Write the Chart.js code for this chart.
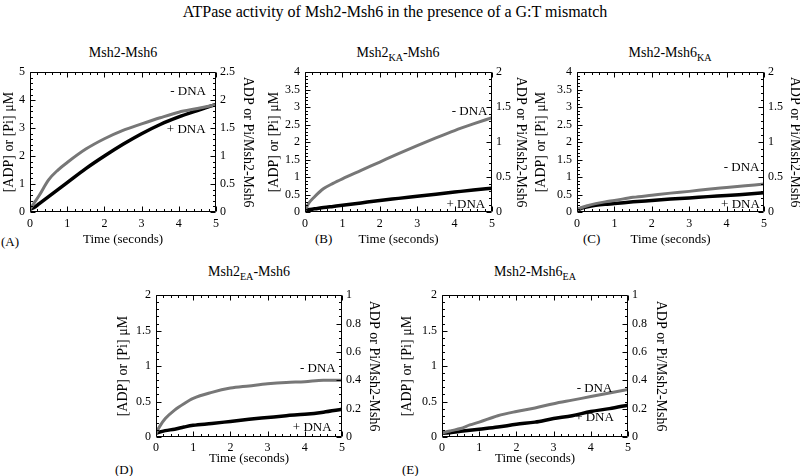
<!DOCTYPE html>
<html><head><meta charset="utf-8">
<script src="https://cdn.jsdelivr.net/npm/chart.js@4.4.0/dist/chart.umd.min.js"></script>
<style>
html,body{margin:0;padding:0;background:#fff;width:800px;height:476px;overflow:hidden;position:relative;font-family:"Liberation Serif","Times New Roman",serif;color:#000}
.t{position:absolute;white-space:nowrap;transform:translate(-50%,-50%);line-height:1}
.t sub{font-size:0.72em;vertical-align:-0.35em;line-height:0}
.lbl{position:absolute;white-space:nowrap;transform:translateY(-50%);font-size:13px;line-height:1}
canvas{position:absolute}
</style></head><body>
<div class="t" style="left:395px;top:12px;font-size:16px">ATPase activity of Msh2-Msh6 in the presence of a G:T mismatch</div>
<div class="t" style="left:123px;top:53px;font-size:14px">Msh2-Msh6</div>
<div class="t" style="left:398px;top:53px;font-size:14px">Msh2<sub>KA</sub>-Msh6</div>
<div class="t" style="left:670px;top:53px;font-size:14px">Msh2-Msh6<sub>KA</sub></div>
<div class="t" style="left:249px;top:272px;font-size:14px">Msh2<sub>EA</sub>-Msh6</div>
<div class="t" style="left:535px;top:272px;font-size:14px">Msh2-Msh6<sub>EA</sub></div>
<div class="lbl" style="left:1px;top:241px">(A)</div>
<div class="lbl" style="left:315px;top:238px">(B)</div>
<div class="lbl" style="left:583px;top:238px">(C)</div>
<div class="lbl" style="left:115px;top:469px">(D)</div>
<div class="lbl" style="left:402px;top:469px">(E)</div>
<script>
// ---- data ----
const TIME = [0, 0.1, 0.25, 0.5, 0.75, 1, 1.5, 2, 2.5, 3, 3.5, 4, 4.5, 5];
const X_TICKS = [0, 1, 2, 3, 4, 5];

const A_MINUS = [0.1, 0.3, 0.6, 1.15, 1.5, 1.77, 2.25, 2.62, 2.92, 3.15, 3.37, 3.57, 3.7, 3.84];
const A_PLUS  = [0.1, 0.15, 0.3, 0.55, 0.8, 1.05, 1.55, 2.0, 2.42, 2.8, 3.13, 3.4, 3.63, 3.85];
const B_MINUS = [0.05, 0.25, 0.43, 0.67, 0.82, 0.95, 1.19, 1.43, 1.67, 1.9, 2.12, 2.33, 2.52, 2.7];
const B_PLUS  = [0.05, 0.07, 0.09, 0.13, 0.16, 0.19, 0.26, 0.33, 0.39, 0.45, 0.51, 0.57, 0.63, 0.68];
const C_MINUS = [0.05, 0.12, 0.17, 0.24, 0.29, 0.33, 0.42, 0.48, 0.54, 0.59, 0.65, 0.7, 0.75, 0.8];
const C_PLUS  = [0.05, 0.1, 0.14, 0.19, 0.22, 0.24, 0.29, 0.33, 0.37, 0.4, 0.44, 0.47, 0.51, 0.55];
const D_MINUS = [0.05, 0.15, 0.26, 0.38, 0.47, 0.545, 0.63, 0.69, 0.72, 0.75, 0.77, 0.78, 0.8, 0.8];
const D_PLUS  = [0.05, 0.07, 0.09, 0.11, 0.14, 0.165, 0.19, 0.22, 0.25, 0.275, 0.3, 0.32, 0.35, 0.39];
const E_MINUS = [0.05, 0.07, 0.09, 0.12, 0.17, 0.21, 0.3, 0.36, 0.41, 0.47, 0.52, 0.57, 0.62, 0.67];
const E_PLUS  = [0.05, 0.055, 0.065, 0.08, 0.095, 0.11, 0.14, 0.18, 0.21, 0.26, 0.3, 0.36, 0.4, 0.45];

const LEFT_MAX  = {A: 5, B: 4, C: 4, D: 2, E: 2};
const LEFT_STEP = {A: 1, B: 0.5, C: 0.5, D: 0.5, E: 0.5};
const RIGHT_MAX  = {A: 2.5, B: 2, C: 2, D: 1, E: 1};
const RIGHT_STEP = {A: 0.5, B: 0.5, C: 0.5, D: 0.2, E: 0.2};

const LEFT_TITLE = '[ADP] or [Pi] \u03bcM';
const RIGHT_TITLE = 'ADP or Pi/Msh2-Msh6';
const X_TITLE = 'Time (seconds)';

// ---- layout / style ----
const FAM = '"Liberation Serif","Times New Roman",serif';
const LAYOUT = {
  A: {cv:{x:0, y:60, w:270, h:190}, area:{l:30, t:72, r:216, b:212}, lt:9, rt:248, xt:240, xp:5,
      ann:[{t:'- DNA', x:4.25, y:4.29}, {t:'+ DNA', x:4.2, y:2.93}], lsub:5, rsub:5},
  B: {cv:{x:262, y:60, w:270, h:190}, area:{l:305, t:72, r:492, b:212}, lt:274, rt:521, xt:240, xp:5,
      ann:[{t:'- DNA', x:4.4, y:2.88}, {t:'+ DNA', x:4.3, y:0.22}], lsub:5, rsub:5},
  C: {cv:{x:532, y:60, w:272, h:190}, area:{l:577, t:72, r:764, b:212}, lt:541, rt:795, xt:240, xp:5,
      ann:[{t:'- DNA', x:4.4, y:1.26}, {t:'+ DNA', x:4.37, y:0.22}], lsub:5, rsub:5},
  D: {cv:{x:110, y:283, w:280, h:190}, area:{l:156, t:295, r:342, b:437}, lt:123, rt:374, xt:459, xp:4,
      ann:[{t:'- DNA', x:4.35, y:0.97}, {t:'+ DNA', x:4.2, y:0.13}], lsub:5, rsub:4},
  E: {cv:{x:395, y:283, w:285, h:190}, area:{l:442, t:295, r:628, b:437}, lt:407, rt:661, xt:459, xp:4,
      ann:[{t:'- DNA', x:4.1, y:0.69}, {t:'+ DNA', x:4.1, y:0.28}], lsub:5, rsub:4}
};
const SERIES = {
  A: [A_MINUS, A_PLUS], B: [B_MINUS, B_PLUS], C: [C_MINUS, C_PLUS], D: [D_MINUS, D_PLUS], E: [E_MINUS, E_PLUS]
};

const fmt = v => String(Math.round(v * 100) / 100);

const framePlugin = {
  id: 'frame',
  afterDatasetsDraw(chart, args, opts) {
    const {ctx, chartArea: a, scales} = chart;
    const L = Math.round(a.left) + 0.5, R = Math.round(a.right) - 0.5;
    const T = Math.round(a.top) + 0.5, B = Math.round(a.bottom) - 0.5;
    ctx.save();
    ctx.strokeStyle = '#000';
    ctx.lineWidth = 1;
    ctx.beginPath();
    ctx.rect(L, T, R - L, B - T);
    const xs = scales.x;
    const nx = 25;
    for (let i = 0; i <= nx; i++) {
      const v = xs.min + (xs.max - xs.min) * i / nx;
      const px = Math.round(xs.getPixelForValue(v)) + 0.5;
      const len = i % 5 === 0 ? 5 : 2.5;
      ctx.moveTo(px, B); ctx.lineTo(px, B - len);
      ctx.moveTo(px, T); ctx.lineTo(px, T + len);
    }
    const side = (sc, step, sub, x0, dir) => {
      const n = Math.round((sc.max - sc.min) / step * sub);
      for (let i = 0; i <= n; i++) {
        const v = sc.min + step / sub * i;
        const py = Math.round(sc.getPixelForValue(v)) + 0.5;
        const len = i % sub === 0 ? 5 : 2.5;
        ctx.moveTo(x0, py); ctx.lineTo(x0 + dir * len, py);
      }
    };
    side(scales.y, opts.lstep, opts.lsub, L, 1);
    side(scales.y2, opts.rstep, opts.rsub, R, -1);
    ctx.stroke();
    ctx.fillStyle = '#000';
    ctx.font = '13px ' + FAM;
    ctx.textAlign = 'center';
    ctx.textBaseline = 'middle';
    for (const an of opts.ann) {
      ctx.fillText(an.t, xs.getPixelForValue(an.x), scales.y.getPixelForValue(an.y));
    }
    ctx.restore();
  }
};

function makePanel(key) {
  const p = LAYOUT[key];
  const cv = document.createElement('canvas');
  cv.width = p.cv.w; cv.height = p.cv.h;
  cv.style.left = p.cv.x + 'px'; cv.style.top = p.cv.y + 'px';
  cv.style.width = p.cv.w + 'px'; cv.style.height = p.cv.h + 'px';
  document.body.appendChild(cv);
  const leftW = p.area.l - p.cv.x;
  const rightW = p.cv.x + p.cv.w - p.area.r;
  const xH = p.cv.y + p.cv.h - p.area.b;
  const padTop = p.area.t - p.cv.y;
  const yLH = 14 * 1.2 / 2, xLH = 13 * 1.2 / 2;
  const tickFont = {family: FAM, size: 12};
  const [minus, plus] = SERIES[key];
  new Chart(cv, {
    type: 'line',
    data: {
      datasets: [
        {label: '- DNA', data: TIME.map((t, i) => ({x: t, y: minus[i]})), borderColor: '#777777',
         borderWidth: 3, pointRadius: 0, cubicInterpolationMode: 'monotone', yAxisID: 'y'},
        {label: '+ DNA', data: TIME.map((t, i) => ({x: t, y: plus[i]})), borderColor: '#000',
         borderWidth: 3.5, pointRadius: 0, cubicInterpolationMode: 'monotone', yAxisID: 'y'}
      ]
    },
    options: {
      responsive: false, animation: false, devicePixelRatio: 1,
      layout: {padding: {top: padTop, left: 0, right: 0, bottom: 0}},
      plugins: {
        legend: {display: false}, tooltip: {enabled: false},
        frame: {lstep: LEFT_STEP[key], lsub: p.lsub, rstep: RIGHT_STEP[key], rsub: p.rsub, ann: p.ann}
      },
      scales: {
        x: {
          type: 'linear', min: 0, max: 5,
          afterBuildTicks: s => { s.ticks = X_TICKS.map(v => ({value: v})); },
          ticks: {font: tickFont, color: '#000', padding: p.xp, maxRotation: 0, autoSkip: false, callback: fmt},
          grid: {display: false, drawTicks: false}, border: {display: false},
          title: {display: true, text: X_TITLE, color: '#000', font: {family: FAM, size: 13},
                  padding: {top: 0, bottom: p.cv.y + p.cv.h - p.xt - xLH}},
          afterFit: s => { s.height = xH; }
        },
        y: {
          type: 'linear', position: 'left', min: 0, max: LEFT_MAX[key],
          ticks: {stepSize: LEFT_STEP[key], font: tickFont, color: '#000', padding: 5, autoSkip: false, callback: fmt},
          grid: {display: false, drawTicks: false}, border: {display: false},
          title: {display: true, text: LEFT_TITLE, color: '#000', font: {family: FAM, size: 14},
                  padding: {top: p.lt - p.cv.x - yLH, bottom: 0}},
          afterFit: s => { s.width = leftW; }
        },
        y2: {
          type: 'linear', position: 'right', min: 0, max: RIGHT_MAX[key],
          ticks: {stepSize: RIGHT_STEP[key], font: tickFont, color: '#000', padding: 4, autoSkip: false, callback: fmt},
          grid: {display: false, drawTicks: false}, border: {display: false},
          title: {display: true, text: RIGHT_TITLE, color: '#000', font: {family: FAM, size: 14},
                  padding: {top: p.cv.x + p.cv.w - p.rt - yLH, bottom: 0}},
          afterFit: s => { s.width = rightW; }
        }
      }
    },
    plugins: [framePlugin]
  });
}
['A', 'B', 'C', 'D', 'E'].forEach(makePanel);
</script>
</body></html>
